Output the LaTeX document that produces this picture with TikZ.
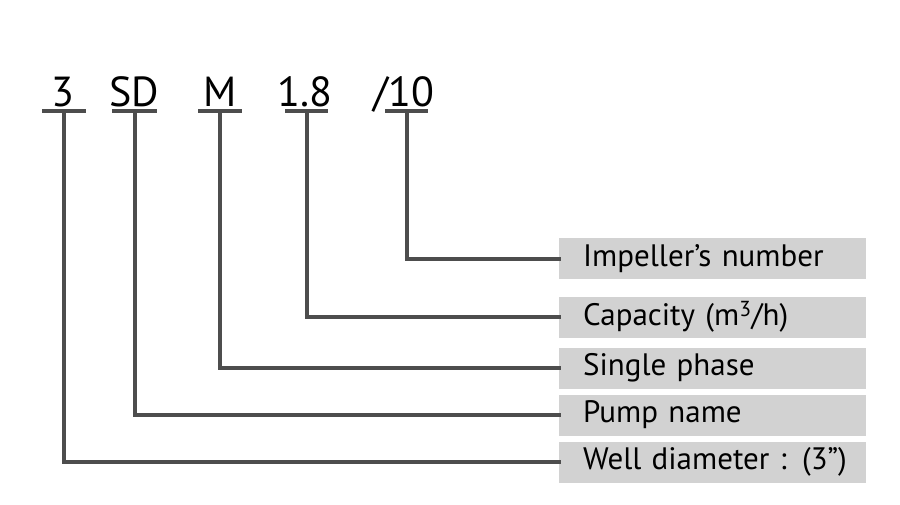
\documentclass[tikz,border=0pt]{standalone}
\usepackage{fontspec}
\setmainfont{PT Sans}
\definecolor{linegray}{HTML}{4D4D4D}
\definecolor{boxgray}{HTML}{D2D2D2}
\begin{document}
\begin{tikzpicture}[x=1pt,y=-1pt,
  codetxt/.style={anchor=base,inner sep=0pt,font=\fontsize{42}{44}\selectfont},
  bar/.style={draw=linegray,line width=4pt},
  conn/.style={draw=linegray,line width=4pt,line cap=rect},
  labelbox/.style={fill=boxgray,anchor=west,minimum width=307pt,minimum height=41pt,
    text width=283pt,align=left,inner sep=0pt,inner xsep=12pt,
    font=\fontsize{31}{33}\selectfont}]
\useasboundingbox (0,0) rectangle (900,505);
% code letters
\node[codetxt] (c3) at (63,107) {3};
\node[codetxt] (cSD) at (134,107) {SD};
\node[codetxt] (cM) at (220,107) {M};
\node[codetxt] (c18) at (305,107) {1.8};
\node[codetxt] (c10) at (404,107) {/10};
% bars
\coordinate (b3) at (64,111);
\coordinate (bSD) at (135,111);
\coordinate (bM) at (220,111);
\coordinate (b18) at (307,111);
\coordinate (b10) at (407,111);
\draw[bar] (42,111) -- (86,111);
\draw[bar] (112,111) -- (157,111);
\draw[bar] (198,111) -- (242,111);
\draw[bar] (285,111) -- (328,111);
\draw[bar] (385,111) -- (428,111);
% boxes
\node[labelbox] (imp) at (559,259) {\hspace*{12pt}Impeller’s number};
\node[labelbox] (cap) at (559,317) {\hspace*{12pt}Capacity (m\textsuperscript{3}/h)};
\node[labelbox] (sp) at (559,368) {\hspace*{12pt}Single phase};
\node[labelbox] (pn) at (559,415) {\hspace*{12pt}Pump name};
\node[labelbox] (wd) at (559,462) {\hspace*{12pt}Well diameter : (3”)};
% connectors
\draw[conn] (b10) |- (imp.west);
\draw[conn] (b18) |- (cap.west);
\draw[conn] (bM) |- (sp.west);
\draw[conn] (bSD) |- (pn.west);
\draw[conn] (b3) |- (wd.west);
\end{tikzpicture}
\end{document}
